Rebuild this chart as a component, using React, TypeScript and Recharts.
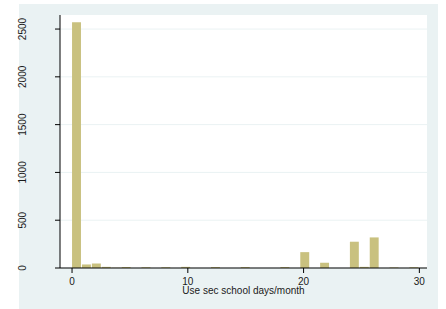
import React from "react"
import { ComposedChart, Bar, XAxis, YAxis, CartesianGrid } from "recharts"

// histogram: 35 bins over 0-30 days
const binCount = 35
const binWidth = 30 / binCount
const counts = [
  2570, 37, 47, 12, 3, 10, 0, 8, 0, 8, 0, 12, 0, 0, 10, 0, 0, 10,
  0, 0, 0, 10, 0, 166, 0, 55, 0, 0, 275, 12, 320, 0, 6, 0, 8,
]
const xTicks = [0, 10, 20, 30]
const yTicks = [0, 500, 1000, 1500, 2000, 2500]

const data = counts.map((c, i) => ({ mid: (i + 0.5) * binWidth, count: c }))

const font = "'Liberation Sans', Arial, Helvetica, sans-serif"

function YTick(props: any) {
  const { y, payload } = props
  return (
    <text x={0} y={0} transform={`translate(25.5, ${y}) rotate(-90)`} textAnchor="middle" fontSize={10} fontFamily={font} fill="#1a1a1a">
      {payload.value}
    </text>
  )
}

function XTick(props: any) {
  const { x, payload } = props
  return (
    <text x={x} y={284.5} textAnchor="middle" fontSize={10} fontFamily={font} fill="#1a1a1a">
      {payload.value}
    </text>
  )
}

export default function App() {
  return (
    <div style={{ position: "absolute", left: 0, top: 0, width: 446, height: 309, background: "#fff" }}>
      <div style={{ position: "absolute", left: 19, top: 4, width: 419, height: 305, background: "#eaf2f3" }} />
      <div style={{ position: "absolute", left: 0, top: 0 }}>
        <ComposedChart width={446} height={309} data={data} margin={{ top: 15, right: 19, bottom: 0, left: 0 }}>
          <CartesianGrid vertical={false} fill="#ffffff" stroke="#eaf2f3" horizontalValues={yTicks} />
          <XAxis
            dataKey="mid"
            type="number"
            domain={[-1.04, 30.66]}
            ticks={xTicks}
            allowDataOverflow
            height={41}
            tickSize={5}
            tick={<XTick />}
            axisLine={{ stroke: "#000" }}
            tickLine={{ stroke: "#000" }}
            label={{ value: "Use sec school days/month", position: "insideBottom", offset: 15, fontSize: 10, fontFamily: font, fill: "#1a1a1a" }}
          />
          <YAxis
            type="number"
            domain={[0, 2647]}
            ticks={yTicks}
            allowDataOverflow
            width={60}
            tickSize={5}
            tick={<YTick />}
            axisLine={{ stroke: "#000" }}
            tickLine={{ stroke: "#000" }}
          />
          <Bar dataKey="count" fill="#c9c17f" barSize={10} isAnimationActive={false} />
        </ComposedChart>
      </div>
    </div>
  )
}
